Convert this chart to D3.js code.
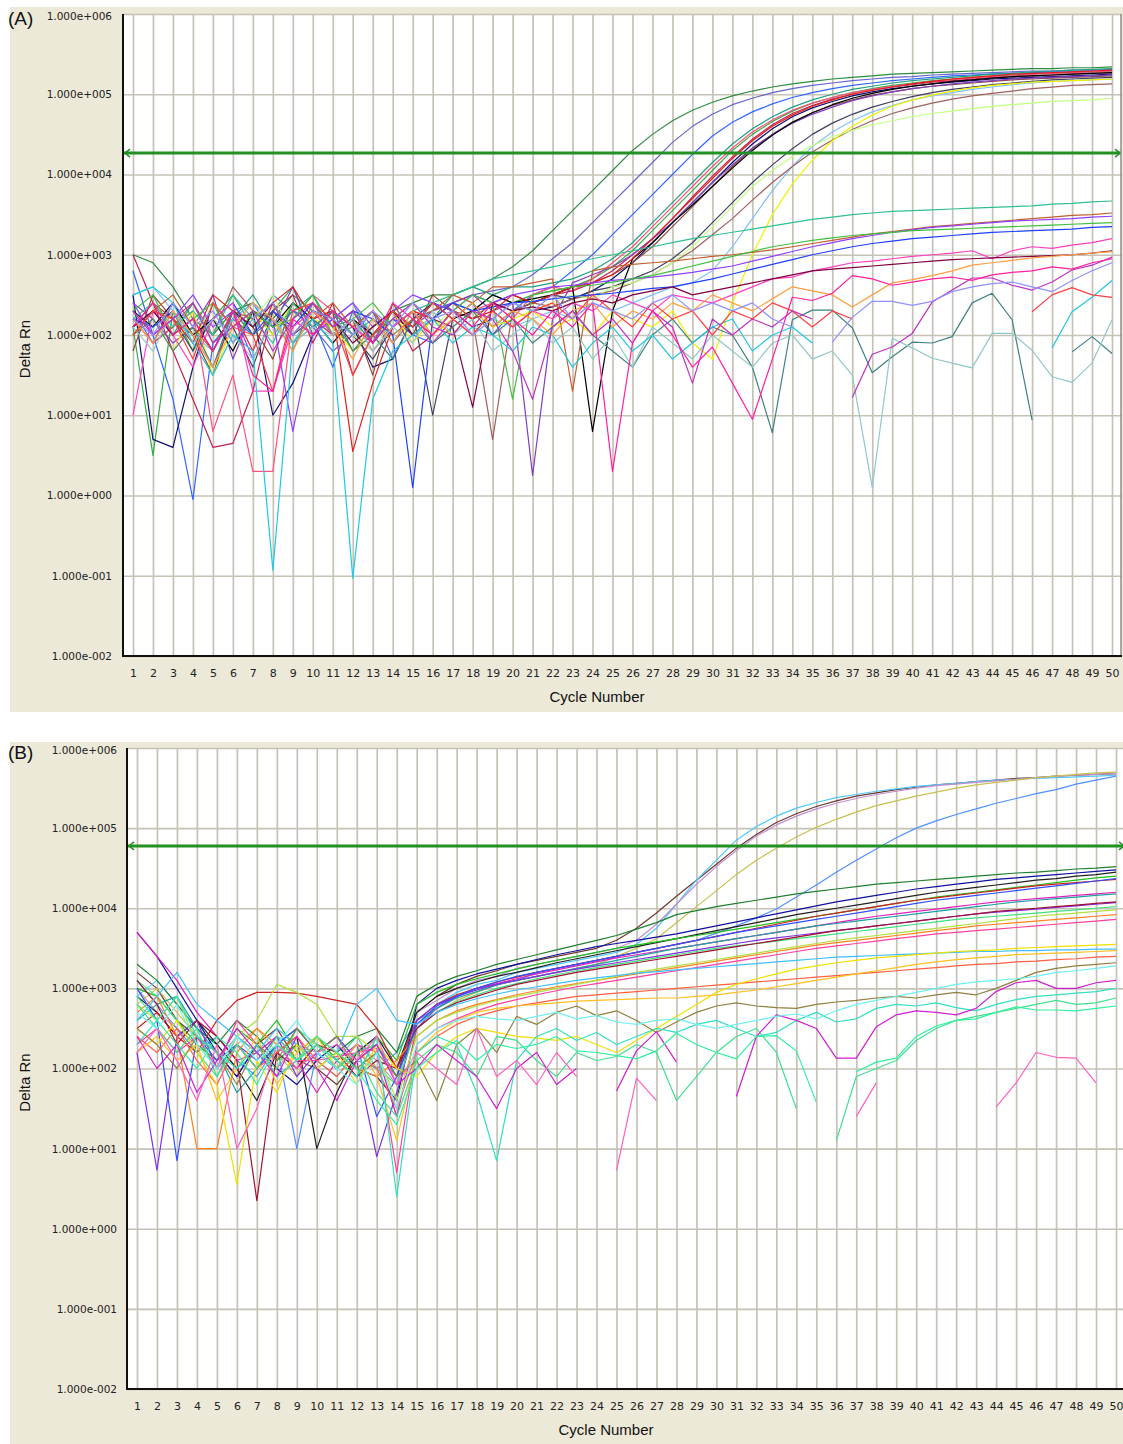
<!DOCTYPE html>
<html>
<head>
<meta charset="utf-8">
<script src="https://cdn.jsdelivr.net/npm/d3@7"></script>
<style>
  body { margin: 0; background: #ffffff; }
  svg { display: block; font-family: "Liberation Sans", Arial, sans-serif; }
</style>
</head>
<body>
<svg id="chart" width="1123" height="1444"></svg>
<script>
// cycle categories + log axis ticks
const cycleNumbers = [1,2,3,4,5,6,7,8,9,10,11,12,13,14,15,16,17,18,19,20,21,22,23,24,25,
  26,27,28,29,30,31,32,33,34,35,36,37,38,39,40,41,42,43,44,45,46,47,48,49,50];
const yTickValues = [1e-2, 1e-1, 1e0, 1e1, 1e2, 1e3, 1e4, 1e5, 1e6];
const yTickLabels = ["1.000e-002","1.000e-001","1.000e+000","1.000e+001","1.000e+002",
  "1.000e+003","1.000e+004","1.000e+005","1.000e+006"];
const thresholdA = 18500;
const thresholdB = 60000;

// values, stored as log10(Delta Rn), one per cycle; null = no point
// ---- panel A ----
const a01 = [3.0,2.9,2.6,2.2,2.0,2.3,2.4,2.2,2.5,2.3, 2.1,2.2,1.9,2.3,2.4,2.5,2.5,2.6,2.7,2.85,
  3.05,3.3,3.55,3.8,4.05,4.3,4.5,4.67,4.8,4.9, 4.98,5.04,5.09,5.13,5.16,5.19,5.21,5.23,5.25,5.26,
  5.27,5.28,5.29,5.30,5.31,5.32,5.32,5.33,5.33,5.34];
const a02 = [2.3,1.9,2.4,2.0,1.6,2.2,2.0,2.5,2.3,2.1, 1.8,2.0,2.3,1.7,2.2,2.3,2.4,2.5,2.55,2.6,
  2.75,2.95,3.15,3.4,3.65,3.9,4.15,4.4,4.6,4.75, 4.87,4.95,5.02,5.07,5.11,5.14,5.17,5.19,5.21,5.22,
  5.24,5.25,5.26,5.27,5.28,5.29,5.29,5.3,5.3,5.31];
const a03 = [2.8,2.0,1.2,-0.05,1.9,2.2,2.4,2.0,2.3,2.2, 1.6,2.3,1.9,2.2,2.0,1.9,2.2,2.4,2.0,2.3,
  2.5,2.6,2.8,3.0,3.25,3.5,3.75,4.0,4.25,4.48, 4.65,4.78,4.88,4.96,5.02,5.07,5.11,5.14,5.17,5.19,
  5.21,5.23,5.24,5.25,5.26,5.27,5.28,5.28,5.29,5.29];
const a04 = [2.1,0.5,2.3,1.8,2.2,2.5,2.1,2.3,2.6,2.0, 2.2,1.8,2.1,2.3,2.0,2.2,2.4,2.3,2.5,2.4,
  2.5,2.55,2.6,2.7,2.85,3.05,3.3,3.55,3.8,4.05, 4.3,4.5,4.66,4.79,4.89,4.96,5.02,5.07,5.11,5.14,
  5.17,5.19,5.21,5.23,5.24,5.25,5.26,5.27,5.28,5.29];
const a05 = [3.0,2.4,1.8,1.2,0.6,0.65,1.3,2.3,2.5,1.9, 2.4,1.5,2.0,2.3,1.8,2.0,2.3,2.2,2.4,2.5,
  2.4,2.5,2.55,2.65,2.8,3.0,3.2,3.45,3.72,3.98, 4.22,4.44,4.62,4.76,4.86,4.94,5.0,5.05,5.09,5.12,
  5.15,5.17,5.19,5.21,5.22,5.23,5.24,5.25,5.26,5.27];
const a06 = [2.5,0.7,0.6,1.6,2.4,2.1,2.3,1.0,1.4,2.0, 2.3,2.1,1.6,1.7,2.2,2.4,2.3,2.1,2.2,2.4,
  2.3,2.35,2.45,2.55,2.7,2.9,3.15,3.4,3.65,3.9, 4.15,4.38,4.57,4.72,4.83,4.91,4.98,5.03,5.07,5.1,
  5.13,5.15,5.17,5.19,5.2,5.21,5.22,5.23,5.24,5.25];
const a07 = [1.8,2.5,2.2,2.0,1.5,2.3,2.1,1.7,2.4,2.2, 2.0,2.2,1.5,2.4,2.0,2.5,2.3,2.2,2.4,2.3,
  2.4,2.5,2.6,2.65,2.75,2.9,3.1,3.35,3.6,3.85, 4.1,4.32,4.5,4.65,4.77,4.86,4.93,4.99,5.03,5.07,
  5.1,5.12,5.14,5.16,5.18,5.19,5.2,5.21,5.22,5.23];
const a08 = [2.2,1.9,2.1,2.3,0.8,1.5,0.3,0.3,2.2,2.5, 2.3,2.0,1.8,2.1,2.3,2.2,2.0,2.3,2.4,2.2,
  2.5,2.6,2.55,2.7,2.9,3.1,3.35,3.6,3.85,4.1, 4.33,4.53,4.68,4.8,4.89,4.96,5.02,5.06,5.1,5.13,
  5.16,5.18,5.2,5.22,5.23,5.25,5.26,5.27,5.28,5.29];
const a09 = [2.4,2.2,1.9,2.1,2.5,1.7,2.3,2.1,2.6,2.0, 2.2,2.4,1.9,2.2,2.1,2.3,2.4,2.5,2.3,2.4,
  0.25,2.2,2.65,2.75,2.85,3.0,3.2,3.4,3.65,3.9, 4.12,4.33,4.5,4.64,4.75,4.84,4.92,4.98,5.03,5.07,
  5.1,5.13,5.15,5.17,5.19,5.2,5.21,5.22,5.23,5.24];
const a10 = [2.1,2.3,2.0,2.4,1.9,2.2,2.5,2.1,2.3,2.5, 2.1,2.3,2.0,2.2,2.4,2.2,2.5,2.6,2.5,2.6,
  2.6,2.65,2.7,2.8,2.95,3.15,3.4,3.65,3.9,4.15, 4.38,4.57,4.72,4.84,4.93,5.0,5.06,5.1,5.14,5.17,
  5.19,5.21,5.23,5.25,5.26,5.28,5.29,5.3,5.31,5.32];
const a11 = [2.0,2.3,2.2,1.8,2.4,2.1,1.6,2.3,2.0,2.2, 2.3,2.0,1.7,2.1,2.3,1.0,2.2,2.4,2.1,2.3,
  2.4,2.5,2.45,2.55,2.6,2.7,2.8,2.95,3.15,3.4, 3.65,3.9,4.12,4.32,4.5,4.64,4.75,4.84,4.91,4.97,
  5.02,5.06,5.09,5.12,5.14,5.16,5.18,5.19,5.2,5.21];
const a12 = [2.5,2.6,2.3,2.0,1.8,2.2,2.4,2.1,1.9,2.3, 2.2,2.4,2.0,2.3,2.1,2.2,2.4,2.3,2.2,2.1,
  2.2,2.3,2.2,2.4,2.3,2.4,2.5,2.6,2.65,2.8, 3.1,3.45,3.8,4.1,4.35,4.53,4.67,4.78,4.86,4.93,
  4.98,5.02,5.06,5.09,5.12,5.14,5.16,5.17,5.18,5.19];
const a13 = [2.2,1.9,2.1,2.4,2.0,2.6,2.3,2.2,1.8,2.4, 2.0,2.1,2.3,1.9,2.2,2.0,2.3,2.2,0.7,2.3,
  2.4,2.35,2.45,2.5,2.55,2.65,2.75,2.9,3.05,3.25, 3.45,3.68,3.9,4.1,4.28,4.43,4.56,4.67,4.76,4.83,
  4.89,4.94,4.98,5.01,5.04,5.07,5.09,5.11,5.12,5.13];
const a14 = [2.0,2.2,1.8,2.3,1.5,2.1,2.3,2.0,2.4,2.2, 2.1,1.8,2.0,2.3,1.9,2.2,2.0,2.3,2.1,2.2,
  2.3,2.1,2.2,2.0,2.3,2.2,2.1,2.3,1.9,1.7, 2.4,3.0,3.5,3.88,4.18,4.42,4.6,4.74,4.85,4.93,
  4.99,5.04,5.08,5.11,5.13,5.15,5.16,5.17,5.18,5.19];
const a15 = [2.3,2.0,2.2,1.9,2.4,2.1,2.2,2.5,2.0,2.3, 2.2,2.0,1.8,2.2,2.4,2.1,2.3,2.0,2.2,2.4,
  2.3,2.4,2.5,2.45,2.6,2.65,2.75,2.9,3.1,3.35, 3.6,3.85,4.05,4.22,4.36,4.47,4.55,4.62,4.67,4.72,
  4.76,4.79,4.82,4.85,4.87,4.89,4.91,4.92,4.93,4.95];
const a16 = [2.3,2.1,2.4,2.0,2.2,1.8,2.3,2.1,2.4,2.2, 1.9,2.2,2.0,2.3,2.1,2.4,2.2,2.3,2.5,2.4,
  2.45,2.5,2.6,0.8,2.3,2.95,3.15,3.4,3.62,3.85, 4.08,4.3,4.49,4.65,4.77,4.87,4.95,5.01,5.06,5.1,
  5.13,5.16,5.18,5.2,5.22,5.23,5.24,5.25,5.26,5.27];
const a17 = [2.1,2.4,2.2,1.9,2.5,2.3,1.8,2.4,2.6,2.2, 2.3,0.55,1.4,2.1,2.3,2.2,2.4,2.2,2.3,2.5,
  2.4,2.5,2.6,2.65,2.75,2.95,3.2,3.45,3.7,3.95, 4.2,4.42,4.6,4.74,4.85,4.93,5.0,5.05,5.09,5.13,
  5.16,5.19,5.21,5.23,5.25,5.26,5.27,5.28,5.29,5.3];
const a18 = [2.2,2.4,2.1,2.3,2.0,2.5,2.2,1.9,2.4,2.1, 2.3,2.0,2.2,1.9,2.3,2.4,2.5,2.6,2.7,2.75,
  2.8,2.85,2.9,2.95,3.0,3.05,3.1,3.15,3.2,3.24, 3.28,3.32,3.36,3.4,3.44,3.47,3.5,3.52,3.54,3.55,
  3.56,3.57,3.58,3.59,3.6,3.61,3.63,3.64,3.66,3.67];
const a19 = [2.0,2.3,2.5,2.1,1.8,2.3,2.2,2.4,1.9,2.2, 2.4,2.1,2.3,2.0,2.2,2.3,2.5,2.4,2.6,2.6,
  2.65,2.7,1.3,2.8,2.85,2.88,2.9,2.92,2.95,2.98, 3.0,3.03,3.06,3.1,3.14,3.18,3.22,3.26,3.29,3.32,
  3.35,3.37,3.39,3.41,3.43,3.45,3.47,3.49,3.5,3.52];
const a20 = [2.4,2.0,2.2,2.5,2.1,2.3,1.7,2.2,0.8,2.0, 2.2,2.4,2.1,2.3,2.5,2.4,2.3,2.5,2.4,2.5,
  2.55,2.6,2.62,2.65,2.68,2.7,2.72,2.75,2.78,2.82, 2.86,2.92,2.98,3.04,3.1,3.15,3.2,3.24,3.28,3.31,
  3.34,3.36,3.38,3.4,3.42,3.43,3.44,3.45,3.47,3.48];
const a21 = [2.2,2.1,2.3,1.9,2.2,2.4,2.0,2.3,2.1,2.4, 2.1,2.3,2.2,2.0,0.1,2.2,2.4,2.3,2.35,2.4,
  2.42,2.45,2.48,2.5,2.52,2.55,2.58,2.6,2.65,2.7, 2.76,2.82,2.88,2.94,3.0,3.05,3.1,3.14,3.17,3.2,
  3.22,3.24,3.26,3.28,3.29,3.3,3.31,3.32,3.34,3.35];
const a22 = [2.3,2.5,2.0,2.2,2.4,1.9,2.3,2.1,2.2,2.5, 2.0,2.2,2.4,2.1,2.3,2.0,2.3,2.5,2.4,1.2,
  2.5,2.55,2.6,2.62,2.66,2.7,2.74,2.8,2.86,2.92, 2.98,3.04,3.1,3.14,3.18,3.21,3.24,3.26,3.28,3.3,
  3.31,3.32,3.33,3.34,3.35,3.36,3.37,3.38,3.39,3.4];
const a23 = [1.0,2.3,2.0,1.6,2.2,2.4,1.3,1.3,2.1,2.3, 2.0,2.2,1.8,2.1,2.3,1.9,2.2,2.0,2.3,2.1,
  2.3,2.2,2.4,2.3,2.5,2.4,2.3,2.5,2.45,2.4, 2.5,2.6,2.7,2.72,2.8,2.85,2.9,2.92,2.95,2.98,
  3.0,3.02,3.05,2.95,3.05,3.1,3.08,3.12,3.15,3.2];
const a24 = [2.1,2.3,2.0,2.2,1.8,2.3,2.1,2.4,2.0,2.3, 2.2,1.9,2.1,2.3,2.0,2.2,2.1,1.1,2.4,2.3,
  2.35,2.3,2.4,2.45,2.4,2.5,2.55,2.6,2.5,2.55, 2.6,2.65,2.7,2.75,2.8,2.82,2.84,2.86,2.88,2.9,
  2.92,2.94,2.95,2.96,2.97,2.98,2.99,3.0,3.02,3.05];
const a25 = [2.0,2.2,1.8,2.1,1.6,2.3,2.0,2.2,1.9,2.1, 2.3,1.8,2.0,1.7,2.2,1.9,2.1,2.3,2.0,2.2,
  1.9,2.1,2.3,2.0,1.8,1.6,2.0,2.2,1.9,2.1, 2.0,1.6,0.78,2.19,2.31,2.31,2.09,1.53,1.73,1.91,
  1.9,1.98,2.4,2.52,2.19,0.94,null,1.79,1.98,1.77];
const a26 = [2.1,1.8,2.3,1.9,2.2,2.0,1.7,2.2,1.9,2.1, 2.0,2.2,1.8,2.1,1.9,2.3,2.0,2.2,1.8,2.0,
  2.2,1.9,2.1,1.7,2.0,1.6,2.1,1.9,1.7,2.0, 1.8,1.6,1.9,2.0,1.7,1.8,1.5,0.1,1.96,1.84,
  1.71,1.65,1.59,2.02,2.02,1.81,1.48,1.41,1.65,2.19];
const a27 = [2.5,2.6,2.4,1.9,1.5,2.0,1.8,-0.93,1.9,2.2, 1.9,-1.03,1.2,1.8,2.0,2.2,1.9,2.1,2.0,1.8,
  2.1,2.0,1.6,1.9,2.1,1.8,2.0,1.7,1.9,2.1, 2.2,1.8,2.0,2.1,1.9,null,null,null,null,null,
  null,null,null,null,null,null,1.84,2.29,2.47,2.68];
const a28 = [2.2,1.9,2.3,2.0,1.6,2.1,2.4,2.2,1.8,2.3, 2.1,1.7,2.2,1.9,2.3,2.0,2.2,2.4,2.1,2.3,
  2.2,2.0,2.3,2.4,2.1,2.3,2.2,2.4,2.3,2.5, 2.4,2.3,2.45,2.6,2.55,2.5,2.35,2.5,2.65,2.69,
  2.74,2.8,2.87,2.9,2.93,2.96,2.98,3.0,3.02,3.04];
const a29 = [2.0,2.3,2.2,1.7,2.4,2.1,2.0,1.3,2.3,2.4, 2.2,1.5,2.0,2.3,2.1,2.4,2.2,2.0,2.3,2.1,
  2.3,2.4,2.2,2.5,2.3,2.1,2.4,2.2,2.3,2.0, 2.3,2.2,2.4,2.3,2.1,2.3,2.2,null,null,null,
  null,null,null,null,null,2.29,2.5,2.59,2.5,2.47];
const a30 = [2.3,2.0,2.2,2.4,1.9,2.1,2.3,1.8,2.2,2.4, 2.1,2.3,1.9,2.2,2.4,2.1,2.0,2.3,2.2,1.8,
  1.2,2.1,2.3,2.0,2.2,1.9,2.3,2.1,1.4,2.2, 2.0,2.2,2.1,2.3,2.2,null,1.22,1.76,1.85,2.02,
  2.41,2.56,2.71,2.71,2.62,2.56,2.66,2.81,2.87,2.97];
const a31 = [2.1,2.4,2.0,2.2,1.8,2.3,1.5,1.3,2.2,2.0, 2.3,2.1,1.9,2.4,2.2,2.0,2.3,2.1,2.4,2.2,
  2.0,2.3,2.1,2.4,0.3,1.9,2.3,2.0,1.6,1.85, 1.4,0.95,1.7,2.47,2.43,2.52,2.74,2.7,2.62,2.66,
  2.7,2.72,2.68,2.75,2.78,2.8,2.85,2.82,2.9,2.95];
const a32 = [2.2,2.0,2.4,2.1,2.3,1.9,2.2,2.4,2.0,2.3, 2.2,2.0,2.3,2.1,2.4,2.2,2.3,2.0,2.2,2.4,
  2.3,2.5,2.2,2.4,2.3,2.2,2.4,2.5,2.3,2.4, 2.3,2.4,2.2,2.1,null,1.91,2.22,2.42,2.42,2.37,
  2.42,2.54,2.6,2.64,2.66,2.6,2.54,2.68,2.8,2.9];

// ---- panel B ----
const b01 = [3.2,3.0,2.6,2.4,2.2,1.9,2.3,2.5,2.1,2.0, 1.8,2.1,2.3,1.9,2.7,2.9,3.05,3.15,3.22,3.3,
  3.35,3.4,3.45,3.5,3.6,3.75,3.94,4.15,4.35,4.55, 4.75,4.92,5.07,5.18,5.27,5.34,5.4,5.44,5.48,5.51,
  5.54,5.56,5.58,5.6,5.62,5.63,5.65,5.66,5.67,5.68];
const b02 = [2.9,3.1,2.8,2.5,2.3,2.0,2.2,2.4,2.3,2.1, 1.9,2.2,2.4,2.0,2.6,2.8,2.95,3.05,3.1,3.2,
  3.25,3.3,3.35,3.4,3.45,3.55,3.75,4.05,4.35,4.6, 4.85,5.02,5.15,5.25,5.32,5.38,5.42,5.46,5.49,5.52,
  5.54,5.56,5.58,5.6,5.61,5.62,5.63,5.64,5.65,5.66];
const b03 = [3.0,2.7,2.5,2.3,2.1,2.4,2.2,2.0,2.3,2.2, 2.0,2.3,2.1,1.8,2.7,2.85,3.0,3.1,3.15,3.25,
  3.3,3.35,3.4,3.45,3.5,3.6,3.8,4.05,4.3,4.52, 4.72,4.9,5.04,5.15,5.24,5.31,5.37,5.42,5.46,5.5,
  5.53,5.55,5.57,5.59,5.61,5.63,5.65,5.66,5.67,5.68];
const b04 = [2.8,3.0,2.7,2.4,2.0,2.3,2.5,2.2,1.9,2.4, 2.1,1.9,2.2,1.4,2.5,2.7,2.85,2.95,3.05,3.1,
  3.15,3.2,3.25,3.3,3.4,3.5,3.62,3.82,4.02,4.22, 4.42,4.6,4.75,4.89,5.01,5.11,5.2,5.28,5.34,5.4,
  5.45,5.5,5.54,5.57,5.6,5.63,5.65,5.67,5.69,5.7];
const b05 = [3.1,2.8,2.5,2.2,2.4,2.1,1.9,2.3,1.0,2.2, 2.4,2.1,2.0,2.2,2.6,2.75,2.9,3.0,3.05,3.1,
  3.2,3.25,3.3,3.35,3.4,3.45,3.5,3.55,3.6,3.69, 3.78,3.88,3.99,4.14,4.29,4.45,4.6,4.74,4.88,5.0,
  5.09,5.17,5.24,5.31,5.37,5.43,5.48,5.55,5.6,5.65];
const b06 = [3.3,3.1,2.8,2.5,2.3,2.6,2.4,2.1,2.3,2.0, 2.2,2.4,2.5,2.2,2.9,3.05,3.15,3.22,3.3,3.36,
  3.42,3.48,3.54,3.6,3.66,3.74,3.82,3.92,3.97,4.02, 4.06,4.1,4.14,4.18,4.21,4.24,4.27,4.3,4.32,4.34,
  4.36,4.38,4.4,4.42,4.44,4.45,4.47,4.49,4.5,4.52];
const b07 = [3.7,3.4,3.0,2.6,2.2,1.9,2.3,2.0,1.8,2.1, 2.3,2.0,1.9,1.6,2.8,3.0,3.1,3.18,3.24,3.3,
  3.36,3.42,3.47,3.52,3.56,3.6,3.64,3.68,3.73,3.78, 3.83,3.88,3.93,3.98,4.03,4.08,4.12,4.16,4.2,4.24,
  4.27,4.3,4.33,4.36,4.38,4.4,4.42,4.44,4.46,4.48];
const b08 = [2.9,2.7,2.4,2.6,2.3,2.0,1.6,2.2,2.4,1.0, 1.7,2.2,2.4,2.0,2.7,2.9,3.0,3.08,3.15,3.2,
  3.26,3.32,3.37,3.42,3.47,3.52,3.57,3.62,3.67,3.72, 3.77,3.82,3.87,3.92,3.96,4.0,4.04,4.08,4.12,4.16,
  4.2,4.23,4.26,4.29,4.32,4.35,4.37,4.4,4.42,4.45];
const b09 = [3.0,2.9,2.6,2.3,2.1,2.5,2.3,2.6,2.2,2.4, 2.1,1.9,2.4,2.1,2.8,2.95,3.05,3.12,3.18,3.24,
  3.3,3.35,3.4,3.45,3.5,3.54,3.58,3.62,3.66,3.7, 3.74,3.78,3.82,3.86,3.9,3.94,3.98,4.02,4.06,4.1,
  4.14,4.17,4.2,4.23,4.26,4.29,4.32,4.35,4.38,4.4];
const b10 = [2.5,2.7,2.4,2.2,2.6,2.85,2.95,2.95,2.94,2.9, 2.85,2.8,2.5,2.0,2.6,2.8,2.92,3.0,3.08,3.14,
  3.2,3.25,3.3,3.35,3.4,3.45,3.5,3.55,3.6,3.65, 3.7,3.75,3.8,3.85,3.9,3.94,3.98,4.02,4.06,4.1,
  4.13,4.16,4.19,4.22,4.25,4.28,4.3,4.32,4.34,4.36];
const b11 = [3.7,3.4,3.1,2.7,2.4,2.1,2.2,2.4,2.1,1.7, 2.1,2.3,2.2,1.4,2.5,2.75,2.9,3.0,3.06,3.12,
  3.18,3.23,3.28,3.33,3.38,3.42,3.46,3.5,3.54,3.58, 3.62,3.66,3.7,3.74,3.78,3.82,3.86,3.9,3.93,3.96,
  3.99,4.02,4.05,4.08,4.1,4.12,4.14,4.16,4.18,4.2];
const b12 = [2.6,2.8,2.9,2.5,2.2,1.7,2.0,2.3,2.5,2.2, 2.0,2.2,2.3,1.9,2.55,2.75,2.88,2.96,3.04,3.1,
  3.15,3.2,3.25,3.3,3.35,3.4,3.45,3.5,3.54,3.58, 3.62,3.66,3.7,3.74,3.78,3.81,3.84,3.87,3.9,3.93,
  3.96,3.99,4.02,4.05,4.08,4.1,4.12,4.14,4.16,4.18];
const b13 = [2.2,0.73,2.4,2.6,2.0,2.3,2.1,2.4,1.9,2.2, 2.4,2.1,0.9,1.7,2.6,2.8,2.9,2.98,3.05,3.1,
  3.15,3.2,3.24,3.28,3.32,3.36,3.4,3.44,3.48,3.52, 3.56,3.6,3.63,3.66,3.69,3.72,3.75,3.78,3.81,3.84,
  3.87,3.9,3.93,3.95,3.97,3.99,4.01,4.03,4.05,4.07];
const b14 = [3.1,2.9,2.6,2.2,1.9,2.4,2.2,2.0,2.5,2.3, 2.1,2.4,2.0,1.8,2.5,2.7,2.83,2.92,3.0,3.06,
  3.12,3.17,3.22,3.26,3.3,3.34,3.38,3.42,3.46,3.5, 3.53,3.56,3.59,3.62,3.65,3.68,3.71,3.74,3.77,3.8,
  3.83,3.86,3.88,3.9,3.92,3.94,3.96,3.98,4.0,4.02];
const b15 = [3.1,2.8,2.3,2.6,2.4,2.1,0.35,2.2,2.0,2.3, 2.2,1.9,2.1,2.0,2.5,2.7,2.82,2.9,2.98,3.05,
  3.1,3.15,3.2,3.24,3.28,3.32,3.36,3.4,3.44,3.48, 3.52,3.56,3.6,3.64,3.68,3.72,3.75,3.78,3.81,3.84,
  3.87,3.9,3.93,3.96,3.98,4.0,4.02,4.04,4.06,4.08];
const b16 = [2.7,2.9,2.4,1.0,1.0,2.2,2.5,2.3,2.1,2.4, 2.2,2.0,1.9,2.1,2.4,2.6,2.72,2.8,2.86,2.92,
  2.97,3.02,3.06,3.1,3.14,3.18,3.22,3.26,3.3,3.34, 3.38,3.42,3.46,3.5,3.54,3.57,3.6,3.63,3.66,3.69,
  3.72,3.75,3.78,3.8,3.82,3.84,3.86,3.88,3.9,3.92];
const b17 = [3.0,2.6,0.85,2.4,2.1,2.3,2.0,2.3,2.5,2.2, 2.0,2.3,1.4,1.9,2.55,2.78,2.9,3.0,3.08,3.15,
  3.2,3.25,3.3,3.35,3.4,3.45,3.5,3.55,3.6,3.65, 3.7,3.74,3.78,3.82,3.86,3.9,3.94,3.98,4.02,4.06,
  4.1,4.13,4.16,4.19,4.22,4.25,4.28,4.31,4.34,4.37];
const b18 = [2.8,2.6,2.9,2.3,2.0,2.4,2.6,3.05,2.95,2.8, 2.4,2.4,2.2,1.6,2.4,2.6,2.7,2.78,2.85,2.9,
  2.95,3.0,3.05,3.1,3.15,3.2,3.24,3.28,3.32,3.36, 3.4,3.44,3.48,3.52,3.56,3.6,3.63,3.66,3.69,3.72,
  3.75,3.78,3.81,3.84,3.87,3.9,3.92,3.94,3.96,3.98];
const b19 = [2.3,2.5,2.2,2.4,2.0,2.6,2.3,1.9,2.1,2.1, 2.15,2.2,2.25,0.7,2.3,2.5,2.62,2.72,2.8,2.86,
  2.92,2.97,3.02,3.06,3.1,3.14,3.18,3.22,3.26,3.3, 3.34,3.38,3.42,3.46,3.5,3.53,3.56,3.59,3.62,3.65,
  3.68,3.7,3.72,3.74,3.76,3.78,3.8,3.82,3.84,3.86];
const b20 = [2.6,2.9,3.2,2.8,2.6,2.4,2.2,2.5,2.3,2.0, 2.2,2.8,3.0,2.6,2.55,2.7,2.8,2.87,2.93,2.98,
  3.02,3.06,3.1,3.13,3.16,3.19,3.21,3.23,3.25,3.27, 3.29,3.31,3.33,3.35,3.37,3.39,3.4,3.41,3.42,3.43,
  3.44,3.45,3.46,3.46,3.47,3.47,3.48,3.48,3.49,3.49];
const b21 = [2.4,2.2,2.5,2.1,1.8,2.3,2.0,2.2,2.4,2.1, 1.9,2.2,2.0,1.5,2.2,2.4,2.55,2.65,2.72,2.78,
  2.82,2.86,2.9,2.92,2.94,2.96,2.98,3.0,3.02,3.04, 3.06,3.08,3.1,3.12,3.14,3.16,3.18,3.2,3.22,3.24,
  3.26,3.28,3.3,3.31,3.33,3.34,3.36,3.37,3.39,3.4];
const b22 = [2.5,2.3,2.6,2.2,1.8,0.55,2.1,1.7,2.3,2.0, 2.2,1.8,2.3,2.0,1.9,2.2,2.4,2.5,2.45,2.4,
  2.38,2.35,2.4,2.3,2.2,2.35,2.5,2.65,2.8,2.95, 3.05,3.12,3.18,3.24,3.28,3.32,3.35,3.38,3.4,3.42,
  3.44,3.46,3.47,3.48,3.5,3.51,3.52,3.53,3.54,3.55];
const b23 = [2.2,2.4,2.1,2.3,1.6,2.0,2.4,1.8,2.2,2.4, 2.0,2.3,1.9,1.1,2.2,2.45,2.6,2.7,2.75,2.78,
  2.8,2.82,2.84,2.85,2.86,2.87,2.88,2.88,2.9,2.92, 2.95,2.98,3.02,3.06,3.1,3.14,3.18,3.22,3.26,3.3,
  3.33,3.36,3.38,3.4,3.42,3.43,3.44,3.45,3.46,3.47];
const b24 = [2.5,2.3,2.0,2.4,2.2,1.8,2.3,2.1,2.5,2.2, 2.4,2.0,2.2,1.9,2.1,1.6,2.3,2.5,2.2,2.65,
  2.55,2.7,2.78,2.66,2.72,2.6,2.45,2.58,2.7,2.78, 2.82,2.78,2.76,2.75,2.8,2.83,2.85,2.88,2.9,2.88,
  2.92,2.95,2.92,3.0,3.1,3.2,3.25,3.28,3.3,3.32];
const b25 = [2.3,2.6,2.9,2.4,2.2,2.0,2.3,1.9,2.1,2.3, 2.1,1.9,2.4,0.4,2.2,2.4,2.3,1.7,0.85,2.1,
  2.4,2.5,2.35,2.45,2.3,2.4,2.5,2.45,2.55,2.6, 2.5,2.4,2.45,2.6,2.7,2.58,2.62,2.75,2.8,2.78,
  2.82,2.76,2.72,2.8,2.86,2.9,2.92,2.94,2.96,3.0];
const b26 = [2.8,2.5,2.2,2.5,1.9,2.3,2.0,2.4,2.1,2.3, 2.0,2.2,1.7,1.4,2.1,2.3,2.2,1.9,2.4,2.35,
  2.1,1.9,2.2,2.1,2.15,2.3,2.2,1.6,1.9,2.2, 2.4,2.5,2.2,1.5,null,1.1,1.9,2.0,2.1,2.35,
  2.5,2.6,2.65,2.7,2.75,2.8,2.85,2.8,2.82,2.88];
const b27 = [2.4,2.0,2.3,1.7,2.1,2.5,2.2,1.9,2.4,2.0, 1.6,2.1,2.3,1.8,2.0,2.3,2.1,1.9,1.5,2.0,
  2.2,1.8,2.0,null,1.72,2.22,2.46,2.08,null,null, 1.65,2.4,2.67,2.6,2.5,2.13,2.13,2.52,2.67,2.72,
  2.7,2.67,2.75,2.96,3.07,3.1,3.0,3.0,3.07,3.1];
const b28 = [2.2,2.5,2.1,1.6,2.3,1.0,1.5,2.3,2.0,2.2, 2.3,2.1,2.4,1.8,2.2,2.0,1.8,2.5,1.9,2.1,
  1.8,2.2,1.9,null,0.73,1.88,1.6,null,null,null, null,null,null,null,null,null,1.4,1.82,null,null,
  null,null,null,1.52,1.82,2.2,2.14,2.13,1.82,null];
const b29 = [2.9,2.6,2.3,2.0,2.4,2.2,1.8,2.3,2.1,2.4, 2.2,2.0,1.6,1.3,2.0,2.2,2.35,2.1,2.3,2.25,
  2.3,2.4,2.22,2.2,2.16,2.12,2.22,2.44,2.3,2.2, 2.12,2.4,2.41,2.22,1.58,null,1.96,2.08,2.13,2.4,
  2.53,2.6,2.62,2.7,2.77,2.73,2.73,2.72,2.75,2.78];
const b30 = [2.7,2.5,2.8,2.3,2.0,2.4,2.1,2.3,2.6,2.2, 2.0,1.8,2.2,1.5,2.3,2.5,2.6,2.65,2.62,2.6,
  2.65,2.7,2.62,2.66,2.58,2.55,2.6,2.62,2.55,2.5, 2.55,2.6,2.65,2.68,2.62,2.72,2.8,2.85,2.9,2.95,
  3.0,3.05,3.08,3.1,3.12,3.15,3.2,3.22,3.25,3.28];

const colorsA = ["#2e8b40","#6666cc","#3366ff","#33aa44","#c02050","#101070","#8b4a3a","#ff5080",
  "#8040c0","#20a080","#404060","#80c0ff","#a06060","#f0f000","#c0ff80","#000000","#e02020",
  "#30c090","#c06030","#9040ff","#2040ff","#40c040","#ff40c0","#800040","#408080","#90c8c8",
  "#20c8e0","#ffa040","#ff4040","#c030c0","#ff20a0","#9090ff"];
const colorsB = ["#6b3a2a","#50c8ff","#c090d0","#c8c050","#5090ff","#208030","#1010a0","#202020",
  "#20c020","#d02020","#e020c0","#20a0a0","#8030e0","#40e080","#a01030","#ff8020","#3050ff",
  "#b0e040","#ff40a0","#40c0ff","#ff6040","#f0e000","#ffc020","#908040","#30e0c0","#40e090",
  "#d020d0","#ff60c0","#30f0a0","#70f0f0"];

const seriesA = [a01,a02,a03,a04,a05,a06,a07,a08,a09,a10,a11,a12,a13,a14,a15,a16,
  a17,a18,a19,a20,a21,a22,a23,a24,a25,a26,a27,a28,a29,a30,a31,a32];
const seriesB = [b01,b02,b03,b04,b05,b06,b07,b08,b09,b10,b11,b12,b13,b14,b15,
  b16,b17,b18,b19,b20,b21,b22,b23,b24,b25,b26,b27,b28,b29,b30];

const svg = d3.select("#chart");
const gridColor = "#c6c2b6";
const panelColor = "#ece9d8";
const tickFont = "DejaVu Sans, Verdana, sans-serif";

function drawPanel(cfg){
    const g = svg.append("g").attr("id", cfg.id);

    g.append("rect").attr("x", 10).attr("y", cfg.bgTop)
        .attr("width", 1113).attr("height", cfg.bgBottom - cfg.bgTop)
        .attr("fill", panelColor);

    const x = d3.scaleLinear().domain([0.5, 50.5]).range([cfg.left, cfg.right]);
    const y = d3.scaleLog().domain([1e-2, 1e6]).range([cfg.bottom, cfg.top]);

    g.append("rect").attr("x", cfg.left).attr("y", cfg.top)
        .attr("width", cfg.right - cfg.left).attr("height", cfg.bottom - cfg.top)
        .attr("fill", "#ffffff");

    // grid
    const vGrid = g.append("g").attr("transform", `translate(0,${cfg.bottom})`)
        .call(d3.axisBottom(x).tickValues(cycleNumbers).tickSize(-(cfg.bottom - cfg.top)).tickFormat(""));
    const hGrid = g.append("g").attr("transform", `translate(${cfg.left},0)`)
        .call(d3.axisLeft(y).tickValues(yTickValues).tickSize(-(cfg.right - cfg.left)).tickFormat(""));
    [vGrid, hGrid].forEach(a => {
        a.select(".domain").remove();
        a.selectAll("line").attr("stroke", gridColor).attr("stroke-width", 1.7);
    });

    // amplification curves
    const clipId = "clip-" + cfg.id;
    g.append("clipPath").attr("id", clipId).append("rect")
        .attr("x", cfg.left).attr("y", cfg.top)
        .attr("width", cfg.right - cfg.left).attr("height", cfg.bottom - cfg.top);

    const line = d3.line()
        .defined(d => d.v !== null)
        .x(d => x(d.c))
        .y(d => y(Math.pow(10, d.v)));

    g.append("g").attr("clip-path", `url(#${clipId})`)
        .selectAll("path").data(cfg.series).enter().append("path")
        .attr("d", s => line(s.map((v, i) => ({c: cycleNumbers[i], v: v}))))
        .attr("fill", "none")
        .attr("stroke", (s, i) => cfg.colors[i])
        .attr("stroke-width", 1.2)
        .attr("stroke-linejoin", "round");

    // threshold with arrow heads
    const ty = y(cfg.threshold);
    const thr = g.append("g").attr("stroke", "#239023").attr("fill", "none");
    thr.append("line").attr("x1", cfg.left + 1).attr("x2", cfg.right - 1)
        .attr("y1", ty).attr("y2", ty).attr("stroke-width", 3);
    thr.append("path").attr("d", `M${cfg.left + 7},${ty - 4} L${cfg.left + 2},${ty} L${cfg.left + 7},${ty + 4}`)
        .attr("stroke-width", 1.5);
    thr.append("path").attr("d", `M${cfg.right - 7},${ty - 4} L${cfg.right - 2},${ty} L${cfg.right - 7},${ty + 4}`)
        .attr("stroke-width", 1.5);

    // frame
    g.append("line").attr("x1", cfg.right - 1).attr("x2", cfg.right - 1)
        .attr("y1", cfg.top).attr("y2", cfg.bottom).attr("stroke", "#8a8a8a").attr("stroke-width", 1.5);
    g.append("line").attr("x1", cfg.left).attr("x2", cfg.left)
        .attr("y1", cfg.top).attr("y2", cfg.bottom + 1).attr("stroke", "#111").attr("stroke-width", 2);
    g.append("line").attr("x1", cfg.left).attr("x2", cfg.right)
        .attr("y1", cfg.bottom).attr("y2", cfg.bottom).attr("stroke", "#111").attr("stroke-width", 2);

    // tick labels
    const yAxis = g.append("g").attr("transform", `translate(${cfg.left},0)`)
        .call(d3.axisLeft(y).tickValues(yTickValues).tickSize(0).tickPadding(cfg.left - cfg.labelRight)
            .tickFormat((d, i) => yTickLabels[i]));
    yAxis.select(".domain").remove();
    yAxis.selectAll("text").attr("font-size", 10.5).attr("fill", "#222").attr("font-family", tickFont);
    yAxis.selectAll(".tick").filter(d => d === 1e6).select("text").attr("dy", "0.55em");

    const xAxis = g.append("g").attr("transform", `translate(0,${cfg.bottom})`)
        .call(d3.axisBottom(x).tickValues(cycleNumbers).tickSize(0).tickPadding(13));
    xAxis.select(".domain").remove();
    xAxis.selectAll("text").attr("font-size", 11).attr("fill", "#222").attr("font-family", tickFont);

    // titles
    g.append("text").attr("x", cfg.titleX).attr("y", cfg.bottom + 46)
        .attr("text-anchor", "middle").attr("font-size", 15).attr("fill", "#111").text("Cycle Number");
    g.append("text").attr("transform", `translate(30,${(cfg.top + cfg.bottom) / 2 + 14}) rotate(-90)`)
        .attr("text-anchor", "middle").attr("font-size", 15).attr("fill", "#111").text("Delta Rn");
    g.append("text").attr("x", 8).attr("y", cfg.top + 11)
        .attr("font-size", 19).attr("fill", "#111").text(cfg.letter);
}

drawPanel({id: "A", letter: "(A)", bgTop: 7, bgBottom: 712, top: 14, bottom: 656, left: 123, right: 1122,
    labelRight: 112, titleX: 597, series: seriesA, colors: colorsA, threshold: thresholdA});
drawPanel({id: "B", letter: "(B)", bgTop: 742, bgBottom: 1444, top: 748, bottom: 1389, left: 127, right: 1126,
    labelRight: 117, titleX: 606, series: seriesB, colors: colorsB, threshold: thresholdB});
</script>
</body>
</html>
